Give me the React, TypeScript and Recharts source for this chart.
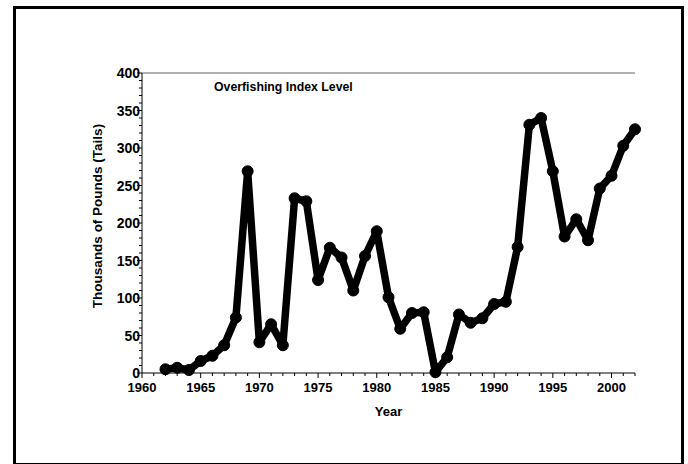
import { LineChart, Line, XAxis, YAxis, ReferenceLine } from "recharts";

const years = [
  1962, 1963, 1964, 1965, 1966, 1967, 1968, 1969, 1970, 1971, 1972, 1973, 1974, 1975,
  1976, 1977, 1978, 1979, 1980, 1981, 1982, 1983, 1984, 1985, 1986, 1987, 1988, 1989,
  1990, 1991, 1992, 1993, 1994, 1995, 1996, 1997, 1998, 1999, 2000, 2001, 2002,
];
const landings = [
  5, 7, 4, 16, 23, 37, 74, 269, 41, 65, 37, 233, 229, 124,
  167, 154, 110, 156, 189, 101, 59, 80, 81, 1, 21, 78, 67, 73,
  92, 95, 168, 331, 340, 269, 182, 205, 177, 246, 263, 303, 325,
];
const yearLabels = [1960, 1965, 1970, 1975, 1980, 1985, 1990, 1995, 2000];
const poundLabels = [0, 50, 100, 150, 200, 250, 300, 350, 400];

// every year / every 10 get a small tick, the labelled ones a longer one
const yearTicks = Array.from({ length: 43 }, (_, i) => 1960 + i);
const poundTicks = Array.from({ length: 41 }, (_, i) => i * 10);

const data = years.map((year, i) => ({ year, value: landings[i] }));

const FONT = "'Liberation Sans', Arial, sans-serif";

function XTick(props: any) {
  const { x, y, payload } = props;
  const major = yearLabels.includes(payload.value);
  return (
    <g>
      <line x1={x} x2={x} y1={y} y2={y + (major ? 5 : 3)} stroke="#000" />
      {major && (
        <text x={x} y={y + 19} textAnchor="middle" fontFamily={FONT} fontWeight="bold" fontSize={13} fill="#000">
          {payload.value}
        </text>
      )}
    </g>
  );
}

function YTick(props: any) {
  const { x, y, payload } = props;
  const major = poundLabels.includes(payload.value);
  return (
    <g>
      <line x1={x} x2={x - (major ? 5 : 3)} y1={y} y2={y} stroke="#000" />
      {major && (
        <text x={x - 2} y={y + 5} textAnchor="end" fontFamily={FONT} fontWeight="bold" fontSize={14} fill="#000">
          {payload.value}
        </text>
      )}
    </g>
  );
}

export default function App() {
  return (
    <div style={{ position: "relative", width: 688, height: 464, background: "#fff", fontFamily: FONT, overflow: "hidden" }}>
      <style>{`body{margin:0}`}</style>
      <div
        style={{
          position: "absolute",
          left: 13,
          top: 6,
          width: 671,
          height: 460,
          border: "3px solid #000",
          boxSizing: "border-box",
        }}
      />
      <LineChart width={688} height={464} data={data} margin={{ top: 73, right: 53, bottom: 41, left: 0 }}>
        <XAxis
          dataKey="year"
          type="number"
          domain={[1960, 2002]}
          ticks={yearTicks}
          interval={0}
          tickSize={0}
          tickMargin={0}
          tickLine={false}
          tick={<XTick />}
          height={50}
          axisLine={{ stroke: "#000" }}
          label={{
            value: "Year",
            position: "insideBottom",
            offset: 7,
            style: { fontFamily: FONT, fontWeight: "bold", fontSize: 13, fill: "#000" },
          }}
        />
        <YAxis
          type="number"
          domain={[0, 400]}
          ticks={poundTicks}
          interval={0}
          tickSize={0}
          tickMargin={0}
          tickLine={false}
          tick={<YTick />}
          width={142}
          axisLine={{ stroke: "#000" }}
          label={{
            value: "Thousands of Pounds (Tails)",
            angle: -90,
            position: "center",
            dx: 26,
            dy: -7,
            style: { fontFamily: FONT, fontWeight: "bold", fontSize: 13.5, fill: "#000", textAnchor: "middle" },
          }}
        />
        <ReferenceLine
          y={400}
          stroke="#999"
          strokeWidth={1.5}
          label={{
            value: "Overfishing Index Level",
            position: "insideTopLeft",
            dx: 67,
            dy: 4,
            style: { fontFamily: FONT, fontWeight: "bold", fontSize: 12.3, fill: "#000" },
          }}
        />
        <Line
          dataKey="value"
          stroke="#000"
          strokeWidth={7.5}
          strokeLinejoin="round"
          dot={{ r: 5.5, fill: "#000", stroke: "#000", strokeWidth: 1 }}
          isAnimationActive={false}
        />
      </LineChart>
    </div>
  );
}
